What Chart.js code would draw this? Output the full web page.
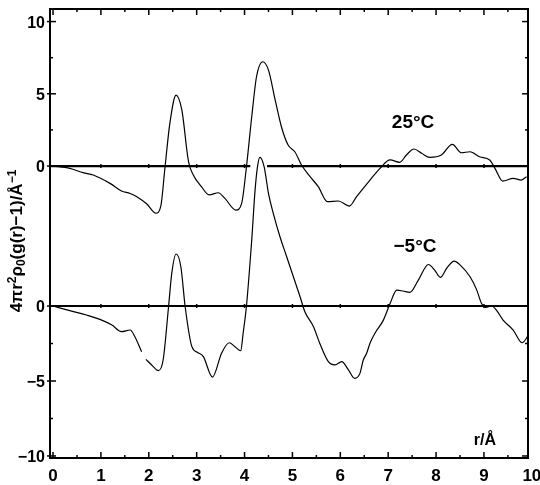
<!DOCTYPE html>
<html><head><meta charset="utf-8">
<script src="https://cdn.jsdelivr.net/npm/chart.js@4.4.1/dist/chart.umd.min.js"></script>
<style>html,body{margin:0;padding:0;background:#fff}#wrap{width:540px;height:485px}</style>
</head><body><div id="wrap"><canvas id="c" width="540" height="485"></canvas></div>
<script>
// ---- data ----
const r25 = [0,0.35,0.63,0.84,1.19,1.43,1.61,1.75,1.96,2.15,2.25,2.34,2.44,2.57,2.69,2.83,2.93,3.10,3.26,3.45,3.59,3.82,3.94,4.04,4.15,4.25,4.38,4.50,4.64,4.77,4.91,5.05,5.19,5.37,5.54,5.73,5.96,6.19,6.34,6.62,6.83,7.04,7.24,7.38,7.54,7.70,7.87,8.11,8.34,8.53,8.71,8.91,9.12,9.23,9.39,9.61,9.78,9.89];
const g25 = [0,-0.16,-0.46,-0.62,-1.2,-1.73,-1.9,-2.12,-2.63,-3.27,-2.8,-0.05,2.95,4.91,3.88,0.3,-0.62,-1.43,-2.0,-1.85,-2.24,-3.05,-2.58,-0.05,3.41,6.18,7.22,6.64,4.57,2.72,1.45,0.99,0.07,-0.74,-1.43,-2.47,-2.42,-2.77,-2.12,-0.97,-0.16,0.42,0.26,0.76,1.18,0.88,0.6,0.76,1.5,0.92,0.99,0.64,0.42,-0.16,-1.04,-0.85,-0.97,-0.74];
const rM5 = [0,0.35,0.70,0.98,1.23,1.43,1.61,1.71,1.85,1.90,1.94,2.06,2.20,2.30,2.41,2.48,2.57,2.67,2.76,2.90,3.03,3.14,3.33,3.52,3.68,3.80,3.92,3.97,4.04,4.15,4.22,4.27,4.32,4.41,4.50,4.60,4.74,4.88,5.02,5.16,5.26,5.44,5.57,5.75,5.89,6.03,6.17,6.30,6.41,6.48,6.55,6.62,6.72,6.90,7.04,7.18,7.31,7.45,7.63,7.84,7.97,8.09,8.22,8.38,8.50,8.71,8.85,8.95,9.04,9.16,9.26,9.40,9.61,9.80,9.92];
const gM5 = [0,-0.31,-0.60,-0.89,-1.27,-1.71,-1.60,-2.05,-3.05,null,-3.56,-3.93,-4.31,-3.60,-0.15,2.18,3.47,2.62,-0.05,-2.71,-3.11,-3.38,-4.74,-3.15,-2.45,-2.71,-2.98,-1.83,0,4.40,7.73,9.28,9.91,9.28,7.51,6.18,4.62,3.29,1.95,0.62,-0.38,-1.38,-2.48,-3.71,-3.93,-3.71,-4.26,-4.82,-4.49,-3.60,-3.15,-2.48,-1.83,-0.94,0.17,1.06,1.0,0.91,1.73,2.77,2.40,1.91,2.51,3.0,2.74,1.95,1.06,0.17,-0.09,0,-0.27,-0.94,-1.60,-2.45,-2.0];
const seriesNames = ['25°C','−5°C'];
const xTickValues = [0,1,2,3,4,5,6,7,8,9,10];
const yTickLabels = ['10','5','0','0','−5','−10'];
const upperTickValues = [10,5,0];
const lowerTickValues = [0,-5,-10];
const LOWER_OFFSET = -9.69;   // lower curve's zero on the shared axis
const LOWER_SCALE = 1.038;    // lower curve plotted slightly taller in the figure

const toLower = v => v === null ? null : LOWER_OFFSET + v * LOWER_SCALE;
const upperPts = r25.map((r,i)=>({x:r,y:g25[i]}));
const lowerPts = rM5.map((r,i)=>({x:r,y:toLower(gM5[i])}));
const yTickPositions = upperTickValues.concat(lowerTickValues.map(toLower));

const XMIN = -0.063, XMAX = 9.92, YMIN = -20.21, YMAX = 10.87;
const FONT = '"Liberation Sans", Arial, sans-serif';

// y-axis title as rich text: [text, script: 0 normal, 1 super, -1 sub]
const yTitleParts = [['4πr',0],['2',1],['ρ',0],['0',-1],['(g(r)−1)/Å',0],['−1',1]];

const decor = {
  id:'decor',
  afterDatasetsDraw(chart){
    const {ctx, chartArea:a, scales:{x,y}} = chart;
    ctx.save();
    ctx.strokeStyle='#000'; ctx.fillStyle='#000';
    const seg=(x1,y1,x2,y2)=>{ctx.beginPath();ctx.moveTo(x1,y1);ctx.lineTo(x2,y2);ctx.stroke();};
    ctx.lineWidth=2;
    ctx.strokeRect(a.left, a.top, a.right-a.left, a.bottom-a.top);
    ctx.lineWidth=1.5;
    for(let k=0;k<=20;k++){
      const v=k/2; if(v>x.max) continue;
      const px=x.getPixelForValue(v), len=(k%2===0)?6:3;
      seg(px,a.bottom,px,a.bottom-len);
      seg(px,a.top,px,a.top+len);
      if(k%2===0 && k>0){
        const p0=y.getPixelForValue(0), p1=y.getPixelForValue(LOWER_OFFSET);
        seg(px,p0-2,px,p0+2); seg(px,p1-2,px,p1+2);
      }
    }
    const yt=[];
    for(let k=0;k<=4;k++){ yt.push([k*2.5, k%2===0]); yt.push([toLower(-k*2.5), k%2===0]); }
    yt.forEach(([v,maj])=>{
      const py=y.getPixelForValue(v), len=maj?6:3;
      seg(a.left,py,a.left+len,py); seg(a.right,py,a.right-len,py);
      if(maj){ seg(a.left,py,a.left-3,py); }
    });
    ctx.textAlign='center'; ctx.textBaseline='middle';
    ctx.font='bold 19px '+FONT;
    ctx.fillText(seriesNames[0], x.getPixelForValue(7.52), y.getPixelForValue(2.98));
    ctx.fillText(seriesNames[1], x.getPixelForValue(7.56), y.getPixelForValue(-5.6));
    ctx.font='bold 16px '+FONT;
    ctx.fillText('r/Å', x.getPixelForValue(9.02), y.getPixelForValue(-19.0));
    // rotated y title
    ctx.translate(17, 241); ctx.rotate(-Math.PI/2);
    const big='bold 17px '+FONT, small='bold 12px '+FONT;
    let total=0;
    yTitleParts.forEach(([t,s])=>{ctx.font=s?small:big; total+=ctx.measureText(t).width;});
    let cx=-total/2;
    ctx.textAlign='left'; ctx.textBaseline='alphabetic';
    yTitleParts.forEach(([t,s])=>{
      ctx.font=s?small:big;
      const dy = s===1?-6:(s===-1?3:0);
      ctx.fillText(t, cx, 5+dy);
      cx+=ctx.measureText(t).width;
    });
    ctx.restore();
  }
};

new Chart(document.getElementById('c'), {
  type:'line',
  data:{datasets:[
    {label:'zero 25', data:[{x:XMIN,y:0},{x:4.12,y:0},{x:4.3,y:null},{x:4.47,y:0},{x:XMAX,y:0}], borderColor:'#000', borderWidth:2.2, pointRadius:0, spanGaps:false},
    {label:'zero -5', data:[{x:XMIN,y:LOWER_OFFSET},{x:XMAX,y:LOWER_OFFSET}], borderColor:'#000', borderWidth:2.2, pointRadius:0},
    {label:seriesNames[0], data:upperPts, borderColor:'#000', borderWidth:1.2, pointRadius:0, cubicInterpolationMode:'monotone'},
    {label:seriesNames[1], data:lowerPts, borderColor:'#000', borderWidth:1.2, pointRadius:0, cubicInterpolationMode:'monotone', spanGaps:false}
  ]},
  options:{
    responsive:false, animation:false, devicePixelRatio:1,
    layout:{padding:{top:9,right:12,left:0,bottom:0}},
    plugins:{legend:{display:false}, tooltip:{enabled:false}},
    scales:{
      x:{type:'linear', min:XMIN, max:XMAX,
        afterFit:s=>{s.height=27; s.paddingLeft=0; s.paddingRight=0;},
        afterBuildTicks:s=>{s.ticks=xTickValues.map(v=>({value:v}));},
        grid:{display:false, drawTicks:false}, border:{display:false},
        ticks:{color:'#000', padding:8, maxRotation:0, autoSkip:false, font:{family:FONT, size:17, weight:'bold'}}},
      y:{type:'linear', min:YMIN, max:YMAX,
        afterFit:s=>{s.width=50; s.paddingTop=0; s.paddingBottom=0;},
        afterBuildTicks:s=>{s.ticks=yTickPositions.map(v=>({value:v}));},
        grid:{display:false, drawTicks:false}, border:{display:false},
        ticks:{color:'#000', padding:5, labelOffset:2, autoSkip:false, callback:(v,i)=>yTickLabels[i], font:{family:FONT, size:16, weight:'bold'}}}
    }
  },
  plugins:[decor]
});
</script></body></html>
